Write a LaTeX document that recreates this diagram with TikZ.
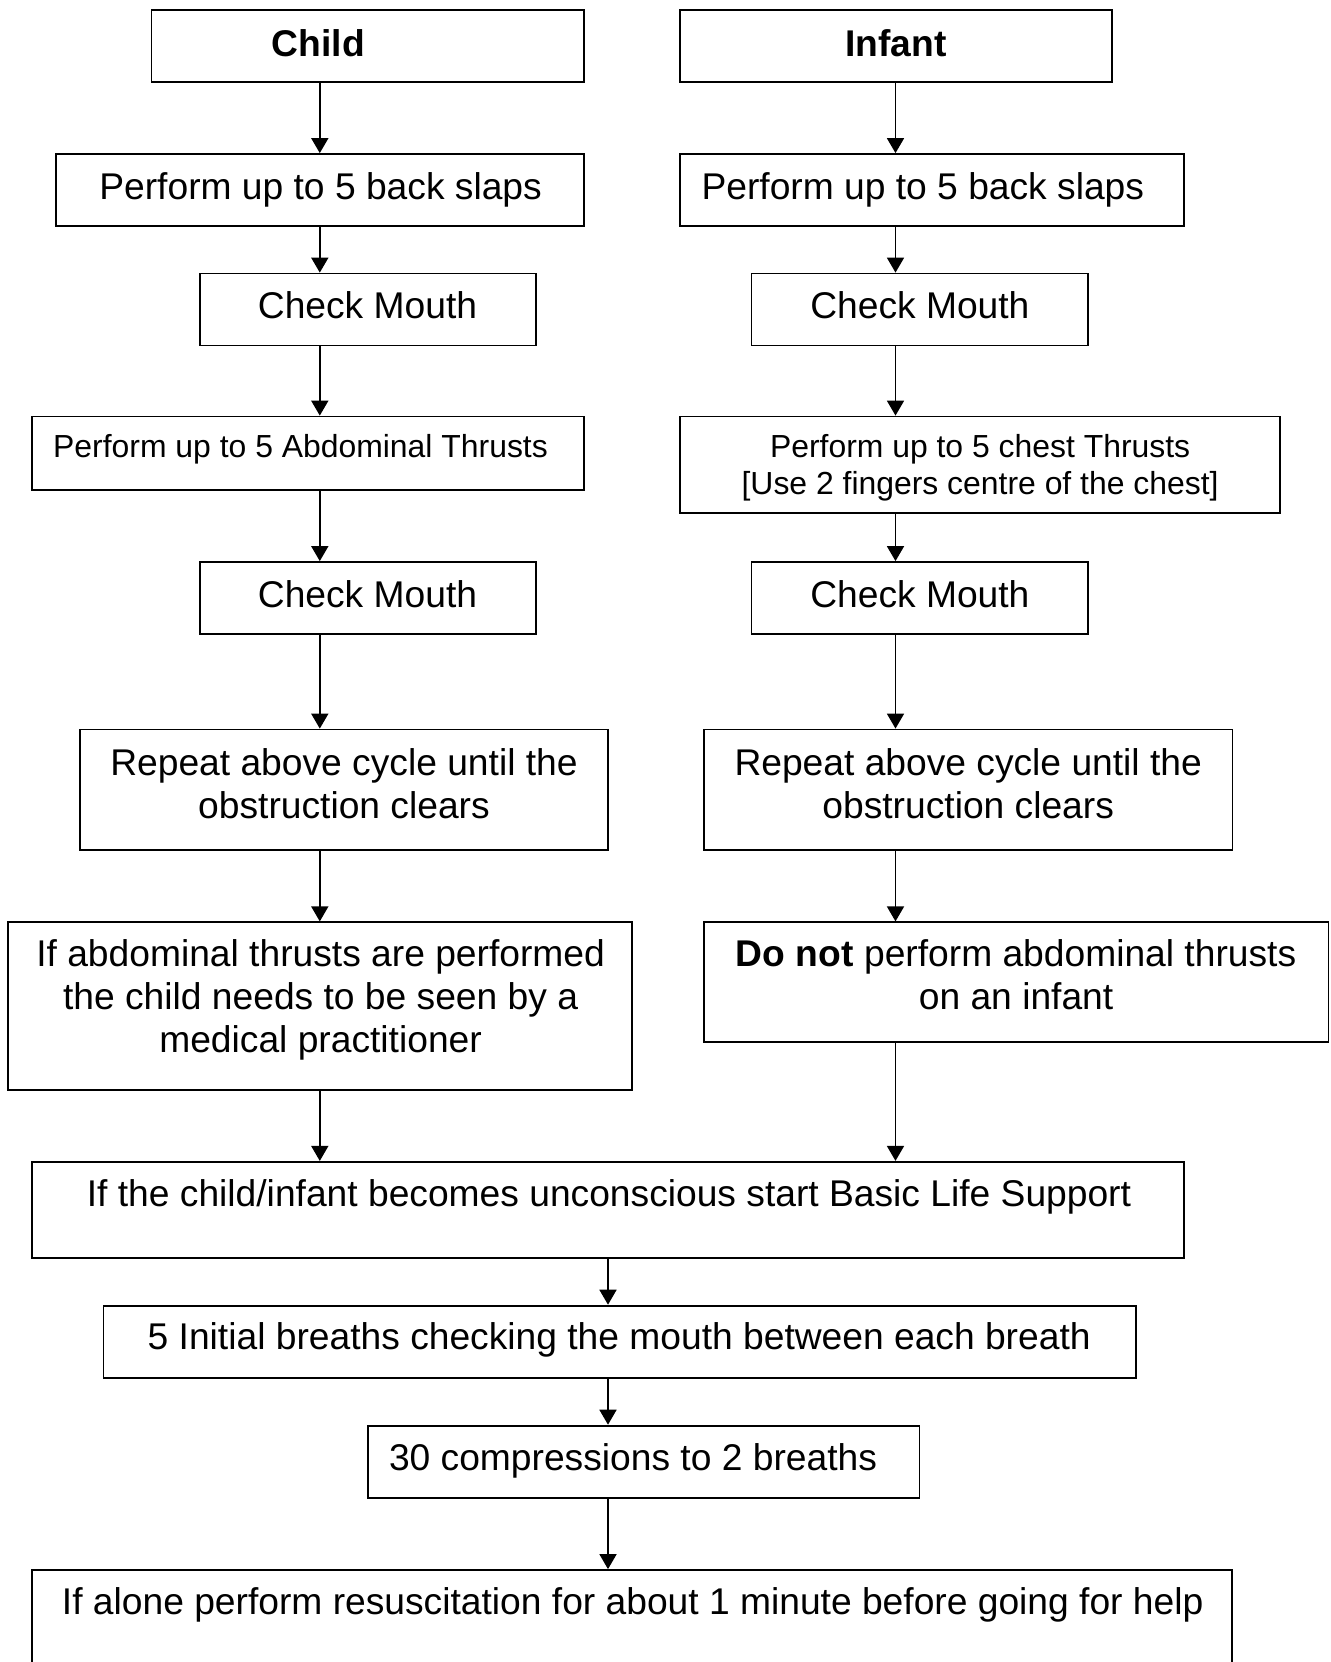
\documentclass[tikz,border=0pt]{standalone}
\usepackage{fontspec}
\setmainfont{Liberation Sans}
\usetikzlibrary{arrows.meta,fit}
\begin{document}
\begin{tikzpicture}[x=0.5pt,y=-0.5pt,
  box/.style={draw, line width=0.9pt, inner sep=0pt},
  big/.style={font=\fontsize{18.6}{21.3}\selectfont, inner sep=0pt, align=center, anchor=base},
  small/.style={font=\fontsize{15.95}{18.5}\selectfont, inner sep=0pt, align=center, anchor=base},
  arr/.style={line width=0.85pt, -{Triangle[length=7.5pt,width=8.5pt]}}]
\useasboundingbox (0,0) rectangle (1330,1662);
% boxes
\node[box, fit={(151.4,10)(584,82)}] (child) {};
\node[box, fit={(679.8,10)(1112,82)}] (infant) {};
\node[box, fit={(55.6,154)(584,226)}] (slapC) {};
\node[box, fit={(679.8,154)(1184,226)}] (slapI) {};
\node[box, fit={(199.7,273.5)(536,345.5)}] (mouthC1) {};
\node[box, fit={(751.5,273.5)(1088.2,345.5)}] (mouthI1) {};
\node[box, fit={(31.8,416.5)(584,489.6)}] (abdC) {};
\node[box, fit={(679.8,416.5)(1280,513)}] (chestI) {};
\node[box, fit={(199.7,562)(536,634)}] (mouthC2) {};
\node[box, fit={(751.5,562)(1088.2,634)}] (mouthI2) {};
\node[box, fit={(79.7,729.5)(608,850)}] (repC) {};
\node[box, fit={(703.6,729.5)(1232.4,850)}] (repI) {};
\node[box, fit={(7.6,922.3)(632.3,1090)}] (ifabd) {};
\node[box, fit={(703.6,922.3)(1328.5,1041.7)}] (donot) {};
\node[box, fit={(32.2,1161.8)(1184,1258.3)}] (uncon) {};
\node[box, fit={(103.5,1305.6)(1135.7,1378.2)}] (init) {};
\node[box, fit={(368,1425.6)(919.4,1498.2)}] (comp) {};
\node[box, fit={(32.2,1570)(1231.6,1668)}] (alone) {};
% texts
\node[big] (childT) at (318.3,56) {\bfseries Child};
\node[big] (infT) at (896,56) {\bfseries Infant};
\node[big] (slapCT) at (320.6,199) {Perform up to 5 back slaps};
\node[big] (slapIT) at (922.8,199) {Perform up to 5 back slaps};
\node[big] (mouthC1T) at (367.5,318) {Check Mouth};
\node[big] (mouthI1T) at (919.9,318) {Check Mouth};
\node[small] (abdT) at (300.5,457) {Perform up to 5 Abdominal Thrusts};
\node[small] (chestT) at (980.1,494) {Perform up to 5 chest Thrusts\\{}[Use 2 fingers centre of the chest]};
\node[big] (mouthC2T) at (367.5,607) {Check Mouth};
\node[big] (mouthI2T) at (919.9,607) {Check Mouth};
\node[big] (repCT) at (344,818) {Repeat above cycle until the\\obstruction clears};
\node[big] (repIT) at (968.2,818) {Repeat above cycle until the\\obstruction clears};
\node[big] (ifabdT) at (320.6,1052) {If abdominal thrusts are performed\\the child needs to be seen by a\\medical practitioner};
\node[big] (donotT) at (1016.1,1009.5) {\textbf{Do not} perform abdominal thrusts\\on an infant};
\node[big] (unconT) at (609,1206.4) {If the child/infant becomes unconscious start Basic Life Support};
\node[big] (initT) at (619.2,1349.9) {5 Initial breaths checking the mouth between each breath};
\node[big] (compT) at (633,1470.2) {30 compressions to 2 breaths};
\node[big] (aloneT) at (632.7,1614.3) {If alone perform resuscitation for about 1 minute before going for help};
% columns
\coordinate (cL) at (319.8,0);
\coordinate (cR) at (895.5,0);
\coordinate (cM) at (608,0);
% connectors
\draw[arr] (child.south -| cL) -- (slapC.north -| cL);
\draw[arr] (slapC.south -| cL) -- (mouthC1.north -| cL);
\draw[arr] (mouthC1.south -| cL) -- (abdC.north -| cL);
\draw[arr] (abdC.south -| cL) -- (mouthC2.north -| cL);
\draw[arr] (mouthC2.south -| cL) -- (repC.north -| cL);
\draw[arr] (repC.south -| cL) -- (ifabd.north -| cL);
\draw[arr] (ifabd.south -| cL) -- (uncon.north -| cL);
\draw[arr] (infant.south -| cR) -- (slapI.north -| cR);
\draw[arr] (slapI.south -| cR) -- (mouthI1.north -| cR);
\draw[arr] (mouthI1.south -| cR) -- (chestI.north -| cR);
\draw[arr] (chestI.south -| cR) -- (mouthI2.north -| cR);
\draw[arr] (mouthI2.south -| cR) -- (repI.north -| cR);
\draw[arr] (repI.south -| cR) -- (donot.north -| cR);
\draw[arr] (donot.south -| cR) -- (uncon.north -| cR);
\draw[arr] (uncon.south -| cM) -- (init.north -| cM);
\draw[arr] (init.south -| cM) -- (comp.north -| cM);
\draw[arr] (comp.south -| cM) -- (alone.north -| cM);
\end{tikzpicture}
\end{document}
